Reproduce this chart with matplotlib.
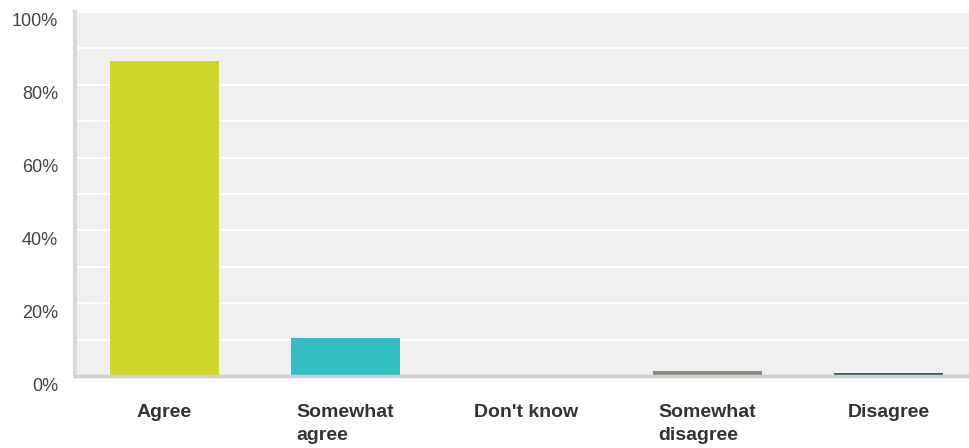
import numpy as np
import matplotlib.pyplot as plt
import matplotlib.transforms as mtransforms
from matplotlib.ticker import MultipleLocator

plt.rcParams['font.family'] = ['Liberation Sans', 'DejaVu Sans']

categories = ["Agree", "Somewhat\nagree", "Don't know", "Somewhat\ndisagree", "Disagree"]
values = [86.6, 10.4, 0.3, 1.5, 0.9]
colors = ["#d0d52b", "#35bec1", "#efae3c", "#8a8b7a", "#30616f"]
tick_values = [0, 20, 40, 60, 80, 100]
tick_labels = ["0%", "20%", "40%", "60%", "80%", "100%"]

fig = plt.figure(figsize=(9.69, 4.48), dpi=100)
ax = fig.add_axes([75 / 969, 1 - 376 / 448, 894 / 969, 364 / 448])
ax.set_facecolor("#f0f0f0")

x = np.arange(len(categories))
ax.bar(x, values, width=0.6, color=colors, zorder=3)

ax.set_xlim(-0.494, 4.445)
ax.set_ylim(0, 100)

# white grid every 10%
ax.yaxis.set_minor_locator(MultipleLocator(10))
ax.grid(True, axis='y', which='both', color='white', linewidth=1.5, zorder=1)

# y labels sit about 10px under their gridline, so draw them by hand
ax.set_yticks(tick_values)
ax.set_yticklabels([])
ax.tick_params(axis='y', which='both', length=0)
shift = mtransforms.ScaledTranslation(-17 / 100, -10 / 100, fig.dpi_scale_trans)
for v, t in zip(tick_values, tick_labels):
    ax.text(0, v, t, transform=ax.get_yaxis_transform() + shift,
            ha='right', va='center', fontsize=13, color="#444444")

ax.set_xticks(x)
ax.set_xticklabels(categories, fontsize=14, fontweight='bold', color="#333333",
                   multialignment='left', va='top', linespacing=1.45)
ax.tick_params(axis='x', length=0, pad=20)

for s in ['top', 'right']:
    ax.spines[s].set_visible(False)
ax.spines['left'].set_color('#d9d9d9')
ax.spines['left'].set_linewidth(3)
ax.spines['bottom'].set_color('#d0d0d0')
ax.spines['bottom'].set_linewidth(2.5)
ax.spines['left'].set_zorder(4)
ax.spines['bottom'].set_zorder(4)

fig.savefig("out.png", dpi=100)
